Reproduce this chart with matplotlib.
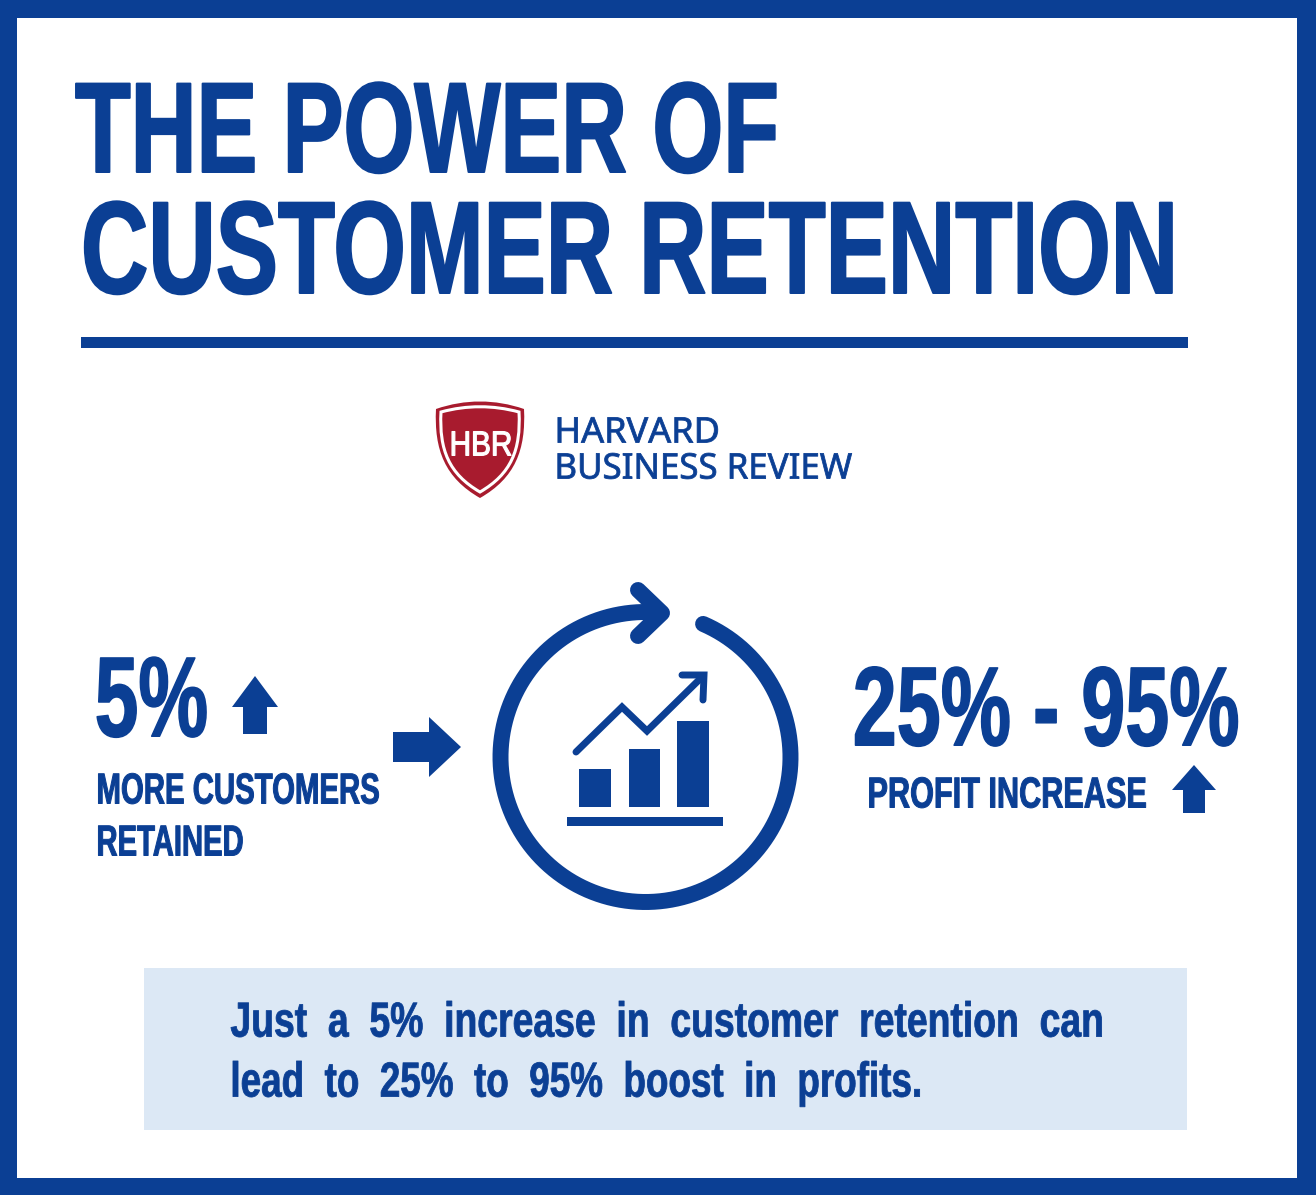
import numpy as np
import matplotlib
matplotlib.use("Agg")
import matplotlib.pyplot as plt
from matplotlib.patches import Polygon, Rectangle, PathPatch
from matplotlib.path import Path
from matplotlib.patheffects import AbstractPathEffect
from matplotlib.text import Text
from matplotlib.transforms import Affine2D, Bbox

BLUE = "#0B3F94"
RED = "#A81B2E"
PALE = "#DCE8F5"

title_lines = ["THE POWER OF", "CUSTOMER RETENTION"]
brand_lines = ["HARVARD", "BUSINESS REVIEW"]
left_value = "5%"
left_label = ["MORE CUSTOMERS", "RETAINED"]
right_value = "25% - 95%"
right_label = "PROFIT INCREASE"
note_lines = ["Just  a  5%  increase  in  customer  retention  can",
              "lead  to  25%  to  95%  boost  in  profits."]
icon_bar_heights = [38, 58, 86]

fig = plt.figure(figsize=(13.16, 11.95), dpi=100, facecolor=BLUE)
ax = fig.add_axes([0, 0, 1, 1])
ax.set_xlim(0, 1316)
ax.set_ylim(1195, 0)
ax.axis("off")
renderer = fig.canvas.get_renderer()


# no condensed font is installed, so squeeze the glyphs when they are drawn
class Squeeze(AbstractPathEffect):
    def __init__(self, x0, sx, grow):
        super().__init__()
        self.x0, self.sx, self.grow = x0, sx, grow

    def draw_path(self, renderer, gc, tpath, affine, rgbFace=None):
        squeezed = affine + Affine2D().translate(-self.x0, 0).scale(self.sx, 1).translate(self.x0, 0)
        gc0 = renderer.new_gc()
        gc0.copy_properties(gc)
        gc0.set_linewidth(self.grow)
        gc0.set_foreground(rgbFace)
        renderer.draw_path(gc0, tpath, squeezed, rgbFace)
        gc0.restore()


class NarrowText(Text):
    stretch = 1.0

    # report the squeezed width, the glyph offsets stay as they are for a left aligned line
    def _get_layout(self, renderer):
        box, info, descent = super()._get_layout(renderer)
        box = Bbox.from_extents(box.x0, box.y0, box.x0 + box.width * self.stretch, box.y1)
        return box, info, descent


def label(x, base, s, cap, right, grow=1.0, family="Liberation Sans", weight="bold", cap_ratio=0.716, color=BLUE):
    # x..right and cap are pixels, grow is extra stem width in pixels
    size = (cap - grow) / cap_ratio * 0.72
    t = NarrowText(x + grow / 2, base - grow / 2, s, family=family, weight=weight, fontsize=size, color=color)
    ax.add_artist(t)
    natural = t.get_window_extent(renderer).width
    t.stretch = (right - x - grow) / natural
    t.set_path_effects([Squeeze(x + grow / 2, t.stretch, grow * 0.72)])
    return t


def up_arrow(tip_x, tip_y, half_head, half_stem, head_y, base_y):
    ax.add_patch(Polygon([(tip_x, tip_y), (tip_x + half_head, head_y), (tip_x + half_stem, head_y),
                          (tip_x + half_stem, base_y), (tip_x - half_stem, base_y),
                          (tip_x - half_stem, head_y), (tip_x - half_head, head_y)],
                         fc=BLUE, ec="none"))


# frame, rule and note box
ax.add_patch(Rectangle((17, 18), 1280, 1160, fc="white", ec="none"))
ax.add_patch(Rectangle((81, 337), 1107, 11, fc=BLUE, ec="none"))
ax.add_patch(Rectangle((144, 968), 1043, 162, fc=PALE, ec="none"))

# title
label(74, 173, title_lines[0], 94, 780, grow=2)
label(80, 294, title_lines[1], 96, 1178, grow=2)

# shield
shield = Path([(436, 409), (465, 399), (495, 399), (524, 409),
               (526, 450), (515, 478), (480, 498),
               (445, 478), (434, 450), (436, 409), (436, 409)],
              [Path.MOVETO, Path.CURVE4, Path.CURVE4, Path.CURVE4,
               Path.CURVE4, Path.CURVE4, Path.CURVE4,
               Path.CURVE4, Path.CURVE4, Path.CURVE4, Path.CLOSEPOLY])
ax.add_patch(PathPatch(shield, fc=RED, ec="none"))
inner = Path([(441, 412), (467, 405), (493, 405), (519, 412),
              (521, 450), (511, 474), (480, 492),
              (449, 474), (439, 450), (441, 412), (441, 412)], shield.codes)
ax.add_patch(PathPatch(inner, fc=RED, ec="white", lw=2.2))
label(449, 456, "HBR", 26, 513, grow=1.2, weight="normal", color="white")

label(554, 443, brand_lines[0], 26, 720, grow=0.8, family="Noto Sans", weight="normal", cap_ratio=0.714)
label(554, 479, brand_lines[1], 26, 852, grow=0.8, family="Noto Sans", weight="normal", cap_ratio=0.714)

# left block
label(94, 737, left_value, 83, 209, grow=1.5)
up_arrow(255, 676, 23, 12, 707, 734)
label(96, 804, left_label[0], 32, 380)
label(96, 856, left_label[1], 32, 244)
ax.add_patch(Polygon([(393, 732), (429, 732), (429, 717), (461, 747), (429, 777), (429, 762), (393, 762)],
                     fc=BLUE, ec="none"))

# circular icon
cx, cy, r = 645.5, 757, 145
t = np.radians(np.linspace(66.6, -270, 300))
ax.plot(cx + r * np.cos(t), cy - r * np.sin(t), color=BLUE, lw=11.5, solid_capstyle="round")
ax.plot([645, 661], [612, 612], color=BLUE, lw=11.5, solid_capstyle="butt")
ax.plot([638, 662, 638], [590, 613, 636], color=BLUE, lw=11.5,
        solid_capstyle="round", solid_joinstyle="round")

ax.bar([595, 644.5, 693], icon_bar_heights, width=31.5, bottom=807 - np.array(icon_bar_heights),
       color=BLUE, linewidth=0)
ax.add_patch(Rectangle((567, 817), 156, 9, fc=BLUE, ec="none"))
ax.plot([576, 622, 647, 703], [752, 707, 731, 676], color=BLUE, lw=5,
        solid_capstyle="round", solid_joinstyle="miter")
ax.plot([682, 704, 703], [675, 675, 700], color=BLUE, lw=5,
        solid_capstyle="round", solid_joinstyle="miter")

# right block
label(852, 746, right_value, 82, 1240, grow=1.5)
label(867, 808, right_label, 32, 1147)
up_arrow(1194, 765, 22, 11, 790, 813)

# note
label(230, 1037, note_lines[0], 36, 1103, grow=0.8)
label(230, 1097, note_lines[1], 36, 922, grow=0.8)

fig.savefig("out.png", dpi=100, facecolor=BLUE)
